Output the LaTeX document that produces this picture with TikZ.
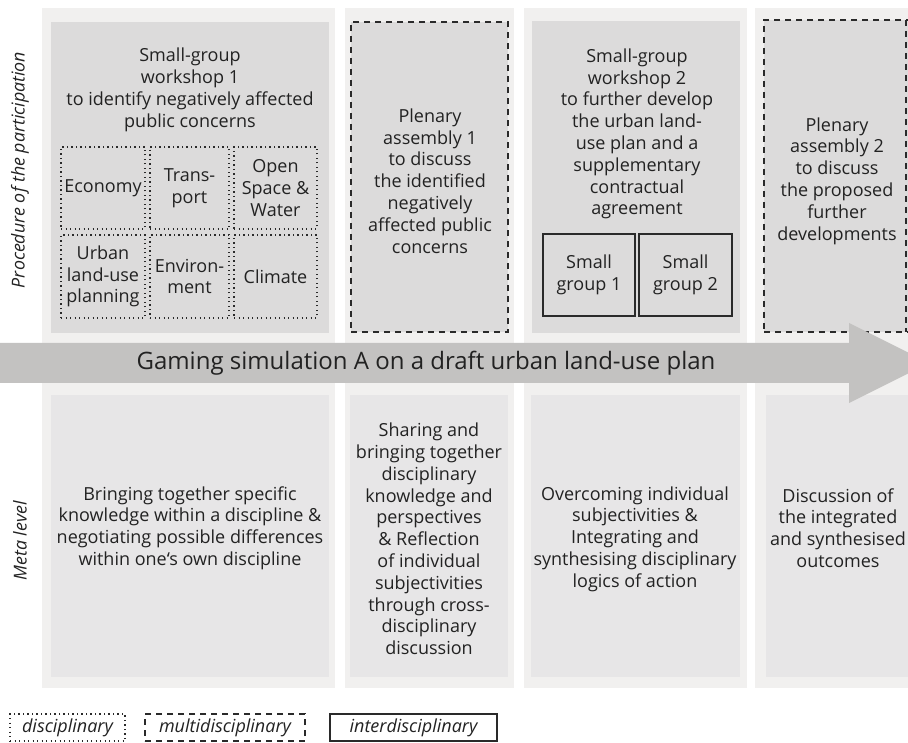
\documentclass[tikz,border=0pt]{standalone}
\usepackage{fontspec}
\setmainfont{Open Sans}
\definecolor{outerc}{HTML}{F1F0EF}
\definecolor{upperc}{HTML}{DCDBDB}
\definecolor{lowerc}{HTML}{E7E6E7}
\definecolor{arrowc}{HTML}{C3C2C1}
\definecolor{linec}{HTML}{2A2A2A}
\definecolor{txtc}{HTML}{222222}
\begin{document}
\begin{tikzpicture}[x=1pt,y=-1pt,
  every node/.style={inner sep=0pt, outer sep=0pt, text=txtc},
  outerpanel/.style={fill=outerc, draw=none, anchor=north west},
  upbox/.style={fill=upperc, draw=none, anchor=north west},
  lowbox/.style={fill=lowerc, draw=none, anchor=north west},
  dashbox/.style={fill=upperc, draw=linec, line width=1.6pt, dash pattern=on 6pt off 5pt, anchor=north west},
  dotbox/.style={draw=linec, line width=1.3pt, dash pattern=on 1.3pt off 3.2pt, anchor=north west},
  solidbox/.style={draw=linec, line width=1.6pt, anchor=north west},
  txt/.style={align=center, font=\fontsize{18}{21.8}\selectfont},
  side/.style={rotate=90, font=\fontsize{17.8}{20}\selectfont\itshape},
  leg/.style={font=\fontsize{18}{20}\selectfont\itshape}
]
\useasboundingbox (0,0) rectangle (908,743);
\clip (0,0) rectangle (908,743);
\fill[white] (0,0) rectangle (908,743);

% outer column panels
\node[outerpanel, minimum width=293pt, minimum height=680pt] (o1) at (42,8) {};
\node[outerpanel, minimum width=169pt, minimum height=680pt] (o2) at (345,8) {};
\node[outerpanel, minimum width=223pt, minimum height=680pt] (o3) at (524,8) {};
\node[outerpanel, minimum width=170pt, minimum height=680pt] (o4) at (755,8) {};

% upper boxes
\node[upbox, minimum width=278pt, minimum height=311pt] (u1) at (51,22) {};
\node[dashbox, minimum width=157pt, minimum height=310pt] (u2) at (351,22) {};
\node[upbox, minimum width=208pt, minimum height=312pt] (u3) at (532,21) {};
\node[dashbox, minimum width=160pt, minimum height=312pt] (u4) at (764,20) {};
\draw[linec, line width=1.6pt, dash pattern=on 6pt off 5pt] (906,20) -- (906,332);

% lower boxes
\node[lowbox, minimum width=278pt, minimum height=282pt] (l1) at (51,395) {};
\node[lowbox, minimum width=158pt, minimum height=282pt] (l2) at (350,395) {};
\node[lowbox, minimum width=209pt, minimum height=282pt] (l3) at (531,395) {};
\node[lowbox, minimum width=160pt, minimum height=282pt] (l4) at (766,395) {};

% upper texts
\node[txt] (t1) at (190,90) {Small-group\\workshop 1\\to identify negatively affected\\public concerns};
\node[txt] (t2) at (430,181) {Plenary\\assembly 1\\to discuss\\the identified\\negatively\\affected public\\concerns};
\node[txt] (t3) at (637,134) {Small-group\\workshop 2\\to further develop\\the urban land-\\use plan and a\\supplementary\\contractual\\agreement};
\node[txt] (t4) at (837,181) {Plenary\\assembly 2\\to discuss\\the proposed\\further\\developments};

% disciplinary cells
\node[dotbox, minimum width=84pt, minimum height=82pt] (c11) at (61,147) {};
\node[dotbox, minimum width=79pt, minimum height=82pt] (c12) at (150,147) {};
\node[dotbox, minimum width=83pt, minimum height=82pt] (c13) at (234,147) {};
\node[dotbox, minimum width=84pt, minimum height=83pt] (c21) at (61,235) {};
\node[dotbox, minimum width=79pt, minimum height=83pt] (c22) at (150,235) {};
\node[dotbox, minimum width=83pt, minimum height=83pt] (c23) at (234,235) {};
\node[txt] at (c11.center) {Economy};
\node[txt] at (c12.center) {Trans-\\port};
\node[txt] at (c13.center) {Open\\Space \&\\Water};
\node[txt] at (c21.center) {Urban\\land-use\\planning};
\node[txt] at (c22.center) {Environ-\\ment};
\node[txt] at (c23.center) {Climate};

% small groups
\node[solidbox, minimum width=92pt, minimum height=82pt] (g1) at (543,234) {};
\node[solidbox, minimum width=93pt, minimum height=82pt] (g2) at (639,234) {};
\node[txt] at (g1.center) {Small\\group 1};
\node[txt] at (g2.center) {Small\\group 2};

% arrow
\fill[arrowc] (0,343) -- (849,343) -- (849,323) -- (929,363) -- (849,403) -- (849,383) -- (0,383) -- cycle;
\node[font=\fontsize{24}{27}\selectfont] (arrowtxt) at (426,363) {Gaming simulation A on a draft urban land-use plan};

% lower texts
\node[txt] (m1) at (190,528) {Bringing together specific\\knowledge within a discipline \&\\negotiating possible differences\\within one‘s own discipline};
\node[txt] (m2) at (429,539) {Sharing and\\bringing together\\disciplinary\\knowledge and\\perspectives\\\& Reflection\\of individual\\subjectivities\\through cross-\\disciplinary\\discussion};
\node[txt] (m3) at (635,539) {Overcoming individual\\subjectivities \&\\Integrating and\\synthesising disciplinary\\logics of action};
\node[txt] (m4) at (838,528) {Discussion of\\the integrated\\and synthesised\\outcomes};

% side labels
\node[side] (s1) at (20,170) {Procedure of the participation};
\node[side] (s2) at (20,541) {Meta level};

% legend
\node[dotbox, minimum width=115pt, minimum height=27pt] (k1) at (10,714) {};
\node[leg] at (k1.center) {disciplinary};
\node[dotbox, line width=1.6pt, dash pattern=on 6pt off 5pt, minimum width=160pt, minimum height=27pt] (k2) at (145,714) {};
\node[leg] at (k2.center) {multidisciplinary};
\node[solidbox, minimum width=167pt, minimum height=27pt] (k3) at (330,714) {};
\node[leg] at (k3.center) {interdisciplinary};
\end{tikzpicture}
\end{document}
